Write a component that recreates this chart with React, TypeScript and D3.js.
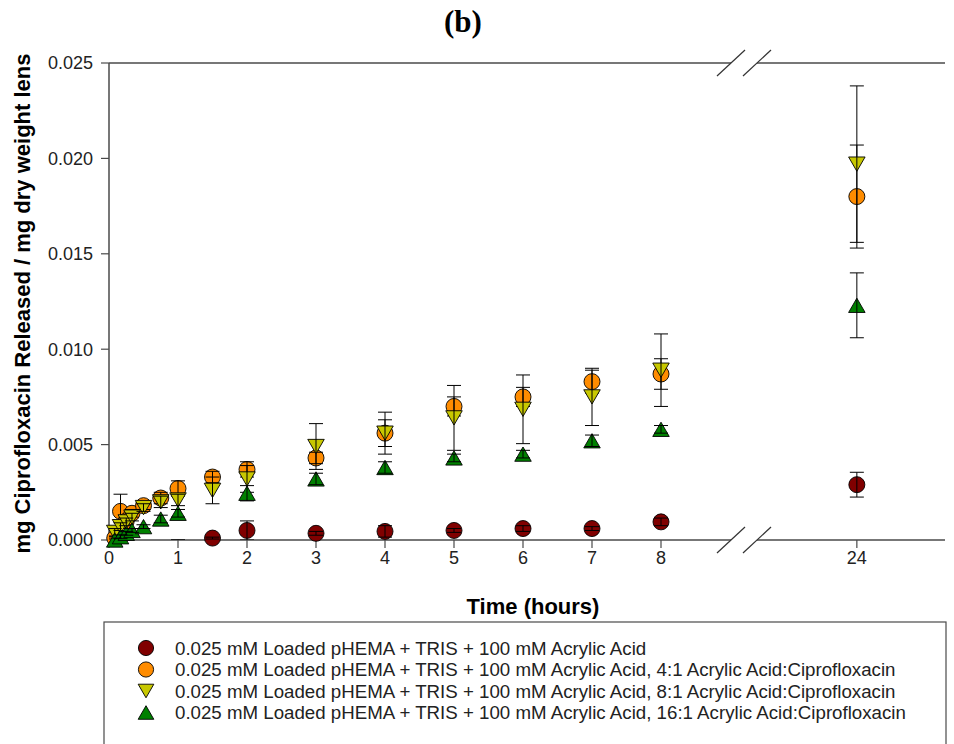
import React from "react";
import * as d3 from "d3";

// Sampling times (hours)
const hours = [0.083, 0.167, 0.25, 0.333, 0.5, 0.75, 1, 1.5, 2, 3, 4, 5, 6, 7, 8, 24];

// mg ciprofloxacin released / mg dry lens, mean and standard deviation per time point (null = not shown)
const aaOnly = [null, null, null, null, null, null, -0.0008, 0.0001, 0.0005, 0.00035, 0.00045, 0.0005, 0.0006, 0.0006, 0.00095, 0.0029];
const aaOnlyErr = [null, null, null, null, null, null, 0.00081, 0.00005, 0.0005, 0.0001, 0.0003, 0.0001, 0.00015, 0.0001, 0.0002, 0.00065];

const ratio4 = [0.0001, 0.0015, 0.001, 0.0014, 0.0018, 0.0022, 0.0027, 0.0033, 0.0037, 0.0043, 0.0056, 0.007, 0.0075, 0.0083, 0.0087, 0.018];
const ratio4Err = [0.0001, 0.0009, 0.0002, 0.0002, 0.0002, 0.0003, 0.0004, 0.0003, 0.0004, 0.0003, 0.0007, 0.0005, 0.0005, 0.0006, 0.0008, 0.0027];

const ratio8 = [0.0004, 0.0007, 0.00095, 0.0012, 0.0017, 0.002, 0.0021, 0.0026, 0.0032, 0.0049, 0.0056, 0.0064, 0.00685, 0.0075, 0.0089, 0.0197];
const ratio8Err = [0.0002, 0.0002, 0.0002, 0.0002, 0.0002, 0.0003, 0.0003, 0.0007, 0.0007, 0.0012, 0.0011, 0.0017, 0.0018, 0.0015, 0.0019, 0.0041];

const ratio16 = [0.0, 0.00017, 0.00035, 0.0005, 0.0007, 0.0011, 0.0014, null, 0.00245, 0.0032, 0.0038, 0.0043, 0.0045, 0.0052, 0.0058, 0.0123];
const ratio16Err = [0.0001, 0.0001, 0.0001, 0.0001, 0.0001, 0.0002, 0.0002, null, 0.0004, 0.0003, 0.0003, 0.0002, 0.0002, 0.0003, 0.0002, 0.0017];

const legendLabels = [
  "0.025 mM Loaded pHEMA + TRIS + 100 mM Acrylic Acid",
  "0.025 mM Loaded pHEMA + TRIS + 100 mM Acrylic Acid, 4:1 Acrylic Acid:Ciprofloxacin",
  "0.025 mM Loaded pHEMA + TRIS + 100 mM Acrylic Acid, 8:1 Acrylic Acid:Ciprofloxacin",
  "0.025 mM Loaded pHEMA + TRIS + 100 mM Acrylic Acid, 16:1 Acrylic Acid:Ciprofloxacin",
];

const xTicksLeft = [0, 1, 2, 3, 4, 5, 6, 7, 8];
const xTicksRight = [24];
const yTicks = [0, 0.005, 0.01, 0.015, 0.02, 0.025];

type Shape = "circle" | "down" | "up";
const series: { values: (number | null)[]; errors: (number | null)[]; fill: string; shape: Shape }[] = [
  { values: aaOnly, errors: aaOnlyErr, fill: "#800000", shape: "circle" },
  { values: ratio4, errors: ratio4Err, fill: "#ff8c00", shape: "circle" },
  { values: ratio8, errors: ratio8Err, fill: "#c8c800", shape: "down" },
  { values: ratio16, errors: ratio16Err, fill: "#008000", shape: "up" },
];

const W = 954;
const H = 744;
const left = 109;
const right = 945;
const top = 63;
const bottom = 540;
const breakA = 731;
const breakB = 757;

const xLeft = d3.scaleLinear().domain([0, 9]).range([left, 730]);
const xRight = d3.scaleLinear().domain([22.55, 25.28]).range([breakB, right]);
const xPos = (t: number) => (t <= 9 ? xLeft(t) : xRight(t));
const y = d3.scaleLinear().domain([0, 0.025]).range([bottom, top]);

const axisColor = "#4a4a4a";
const sans = "'Liberation Sans', Arial, sans-serif";

function Marker({ shape, fill, cx, cy, scale = 1 }: { shape: Shape; fill: string; cx: number; cy: number; scale?: number }) {
  if (shape === "circle") {
    return <circle cx={cx} cy={cy} r={8 * scale} fill={fill} stroke="#000" strokeWidth={0.9} />;
  }
  const s = 16.5 * scale;
  const h = s * 0.866;
  const pts =
    shape === "up"
      ? [[cx - s / 2, cy + h / 2], [cx + s / 2, cy + h / 2], [cx, cy - h / 2]]
      : [[cx - s / 2, cy - h / 2], [cx + s / 2, cy - h / 2], [cx, cy + h / 2]];
  return <path d={d3.line()(pts as [number, number][])! + "Z"} fill={fill} stroke="#000" strokeWidth={0.9} />;
}

function BreakMarks({ yy }: { yy: number }) {
  return (
    <g stroke="#333" strokeWidth={1.2}>
      <line x1={breakA - 14} y1={yy + 13} x2={breakA + 14} y2={yy - 13} />
      <line x1={breakB - 14} y1={yy + 13} x2={breakB + 14} y2={yy - 13} />
    </g>
  );
}

export default function App() {
  const inRange = (v: number) => v >= 0 && v <= 0.025;
  return (
    <svg width={W} height={H} style={{ position: "absolute", left: 0, top: 0, background: "#fff" }}>
      <defs>
        <clipPath id="plot-area">
          <rect x={left} y={top} width={right - left} height={bottom - top} />
        </clipPath>
      </defs>
      <rect x={0} y={0} width={W} height={H} fill="#fff" />

      {/* panel label */}
      <text x={463} y={32} textAnchor="middle" fontFamily="'Liberation Serif', 'Times New Roman', serif" fontWeight="bold" fontSize={31}>
        (b)
      </text>

      {/* frame lines: top and bottom, interrupted by the axis break */}
      <g stroke={axisColor} strokeWidth={1.5}>
        <line x1={left} y1={top} x2={breakA} y2={top} />
        <line x1={breakB} y1={top} x2={right} y2={top} />
        <line x1={left} y1={bottom} x2={breakA} y2={bottom} />
        <line x1={breakB} y1={bottom} x2={right} y2={bottom} />
        <line x1={left} y1={top} x2={left} y2={bottom} />
      </g>
      <BreakMarks yy={top} />
      <BreakMarks yy={bottom} />

      {/* y axis ticks */}
      {yTicks.map((t) => (
        <g key={t}>
          <line x1={left - 8} x2={left} y1={y(t)} y2={y(t)} stroke={axisColor} strokeWidth={1.2} />
          <text x={93} y={y(t)} dy="0.36em" textAnchor="end" fontFamily={sans} fontSize={18} fill="#222">
            {d3.format(".3f")(t)}
          </text>
        </g>
      ))}

      {/* x axis ticks */}
      {[...xTicksLeft, ...xTicksRight].map((t) => (
        <g key={t}>
          <line x1={xPos(t)} x2={xPos(t)} y1={bottom} y2={bottom + 8} stroke={axisColor} strokeWidth={1.2} />
          <text x={xPos(t)} y={bottom + 24} textAnchor="middle" fontFamily={sans} fontSize={18} fill="#222">
            {t}
          </text>
        </g>
      ))}

      {/* axis titles */}
      <text x={533} y={614} textAnchor="middle" fontFamily={sans} fontWeight="bold" fontSize={22}>
        Time (hours)
      </text>
      <text
        transform={`translate(30,${(top + bottom) / 2 + 2}) rotate(-90)`}
        textAnchor="middle"
        fontFamily={sans}
        fontWeight="bold"
        fontSize={22}
      >
        mg Ciprofloxacin Released / mg dry weight lens
      </text>

      {/* data: symbols, then error bars on top */}
      {series.map((s, si) => (
        <g key={si}>
          {hours.map((t, i) => {
            const v = s.values[i];
            if (v === null || !inRange(v)) return null;
            return <Marker key={i} shape={s.shape} fill={s.fill} cx={xPos(t)} cy={y(v)} />;
          })}
          <g clipPath="url(#plot-area)" stroke="#000" strokeWidth={1}>
            {hours.map((t, i) => {
              const v = s.values[i];
              const e = s.errors[i];
              if (v === null || e === null) return null;
              const cx = xPos(t);
              const y1 = y(v + e);
              const y2 = y(v - e);
              return (
                <g key={i}>
                  <line x1={cx} x2={cx} y1={y1} y2={y2} />
                  <line x1={cx - 7} x2={cx + 7} y1={y1} y2={y1} />
                  <line x1={cx - 7} x2={cx + 7} y1={y2} y2={y2} />
                </g>
              );
            })}
          </g>
        </g>
      ))}

      {/* legend */}
      <rect x={104} y={622} width={842} height={140} fill="none" stroke={axisColor} strokeWidth={1.2} />
      {legendLabels.map((label, i) => {
        const cy = 648 + i * 21.5;
        return (
          <g key={i}>
            <Marker shape={series[i].shape} fill={series[i].fill} cx={146} cy={cy} scale={0.95} />
            <text x={175} y={cy} dy="0.36em" fontFamily={sans} fontSize={18.7} fill="#222">
              {label}
            </text>
          </g>
        );
      })}
    </svg>
  );
}
